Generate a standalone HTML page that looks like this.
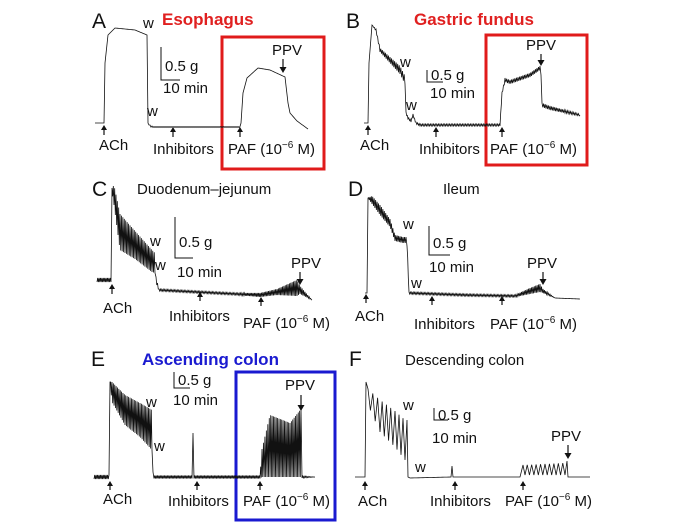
<!DOCTYPE html>
<html><head><meta charset="utf-8"><style>
body{margin:0;background:#fff}
svg{display:block;font-family:"Liberation Sans",Arial,sans-serif}
.lbl{font-size:15px;fill:#111}
.let{font-size:21px;fill:#111}
.ttl{font-size:17px}
</style></head><body>
<svg id="fig" width="700" height="525" viewBox="0 0 700 525">
<rect width="700" height="525" fill="#fff"/>
<g id="static"></g>
<g id="traces"></g>
</svg>
<script>
// ---- trace data (time units, force units relative to baseline) ----
const aTime=[0,9,10,13,20,40,52,53,55,58,145,146,148,152,163,175,190,193,195,202,213];
const aForce=[0,0,60,88,95,93,88,0,-3,-4,-4,0,30,45,55,53,46,20,10,2,-6];
const aNoise=[0,0,0,0,0,0,0,0,1,0.5,0.5,0,0,0,0,0,0,0,0,0,0];
const bTime=[0,4,5,8,12,16,26,36,41,42,44,47,49,52,56,136,138,141,146,166,176,177,178,186,216];
const bForce=[0,0,60,98,93,73,63,53,43,10,5,2,8,0,-2,-2,30,43,41,48,55,50,18,15,8];
const bNoise=[0,0,0,0,1,2,3,4,4,1,1,1,1,1,1,1,1,2,2,2,2,2,2,2,1];
const cTime=[0,14,15,17,23,38,55,58,59,62,100,140,163,180,200,203,215];
const cForce=[0,0,90,85,48,35,19,17,0,-10,-12,-14,-15,-12,-8,-10,-20];
const cNoise=[2,2,2,10,18,14,11,10,3,1,1,1,2,3,8,4,0];
const dTime=[0,2,3,7,15,25,30,38,41,42,44,100,150,165,175,178,190,215];
const dForce=[0,0,95,93,83,70,55,53,53,50,0,-2,-3,2,5,2,-5,-6];
const dNoise=[0,0,0,4,5,4,3,3,3,3,1,1,1,3,4,2,0,0];
const eTime=[0,15,16,18,31,46,58,59,60,98,99,100,166,168,176,196,207,208,221];
const eForce=[0,0,95,85,67,57,47,2,0,0,44,0,0,14,31,27,34,0,0];
const eNoise=[2,2,0,10,15,17,20,3,1.5,1.5,0,1.5,1.5,14,31,27,34,1,0];
const fTime=[0,10,11,13,25,40,50,52,53,55,96,97,98,165,168,170,210,212,213,235];
const fForce=[0,0,95,80,61,48,37,37,0,-1,0,11,0,0,10,7,8,10,0,0];
const fNoise=[0,0,0,8,16,18,20,20,0,0,0,0,0,0,2,5,6,6,0,0];

const panels=[
 {id:'a',x0:95,y0:123,t:aTime,f:aForce,n:aNoise,step:1},
 {id:'b',x0:364,y0:123,t:bTime,f:bForce,n:bNoise,step:0.8},
 {id:'c',x0:97,y0:280,t:cTime,f:cForce,n:cNoise,step:0.7},
 {id:'d',x0:365,y0:293,t:dTime,f:dForce,n:dNoise,step:0.7},
 {id:'e',x0:94,y0:477,t:eTime,f:eForce,n:eNoise,step:0.7},
 {id:'f',x0:355,y0:477,t:fTime,f:fForce,n:fNoise,step:2.2}
];
function xScale(p,t){return p.x0+t;}
function yScale(p,f){return p.y0-f;}
const NS='http://www.w3.org/2000/svg';
const tg=document.getElementById('traces');
panels.forEach(p=>{
  let d='';let k=0;
  for(let i=0;i<p.t.length-1;i++){
    const t0=p.t[i],t1=p.t[i+1];
    const span=Math.max(t1-t0,0.001);
    const n=Math.max(1,Math.round(span/p.step));
    for(let j=0;j<n;j++){
      const u=j/n;
      const t=t0+u*span;
      const f=p.f[i]+u*(p.f[i+1]-p.f[i]);
      const a=p.n[i]+u*(p.n[i+1]-p.n[i]);
      const s=(k%2?1:-1)*a;k++;
      d+=(d?'L':'M')+xScale(p,t).toFixed(2)+','+yScale(p,f+s).toFixed(2);
    }
  }
  const L=p.t.length-1;
  d+='L'+xScale(p,p.t[L])+','+yScale(p,p.f[L]);
  const path=document.createElementNS(NS,'path');
  path.setAttribute('d',d);
  path.setAttribute('fill','none');
  path.setAttribute('stroke','#111');
  path.setAttribute('stroke-width','0.8');
  
  
  tg.appendChild(path);
});

// ---- static annotations ----
let s='';
function txt(x,y,str,cls,name,extra){s+=`<text x="${x}" y="${y}" class="${cls}" ${extra||''}>${str}</text>`;}
function up(x,y1,y2,name){s+=`<g><line x1="${x}" y1="${y1}" x2="${x}" y2="${y2+4}" stroke="#111" stroke-width="1.2"/><path d="M${x-3},${y2+5}L${x},${y2}L${x+3},${y2+5}Z" fill="#111"/></g>`;}
function down(x,y1,y2,name){s+=`<g><line x1="${x}" y1="${y1}" x2="${x}" y2="${y2-4}" stroke="#111" stroke-width="1.2"/><path d="M${x-3.5},${y2-6}L${x},${y2}L${x+3.5},${y2-6}Z" fill="#111"/></g>`;}
function bar(x,y1,y2,x2,name){s+=`<path d="M${x},${y1}V${y2}H${x2}" fill="none" stroke="#111" stroke-width="1"/>`;}
const paf='PAF (10<tspan font-size="10" dy="-6">−6</tspan><tspan dy="6"> M)</tspan>';
// A
txt(92,28,'A','let','panel-a-letter');
txt(162,25,'Esophagus','ttl','panel-a-title','fill="#e02020" font-weight="bold"');
txt(143,28,'w','lbl','wash-a1');txt(147,116,'w','lbl','wash-a2');
bar(161,47,80,180,'scale-bar-a');txt(165,71,'0.5 g','lbl','scale-g-a');txt(163,93,'10 min','lbl','scale-min-a');
s+='<rect x="222" y="37" width="102" height="132" fill="none" stroke="#e01b1b" stroke-width="3"/>';
txt(272,55,'PPV','lbl','ppv-label-a');down(283,59,73,'ppv-arrow-a');
up(104,135,125,'ach-arrow-a');txt(99,150,'ACh','lbl','ach-label-a');
up(173,137,127,'inhib-arrow-a');txt(153,154,'Inhibitors','lbl','inhib-label-a');
up(240,137,127,'paf-arrow-a');txt(228,154,paf,'lbl','paf-label-a');
// B
txt(346,28,'B','let','panel-b-letter');
txt(414,25,'Gastric fundus','ttl','panel-b-title','fill="#e02020" font-weight="bold"');
txt(400,67,'w','lbl','wash-b1');txt(406,110,'w','lbl','wash-b2');
bar(427,70,82,443,'scale-bar-b');txt(431,80,'0.5 g','lbl','scale-g-b');txt(430,98,'10 min','lbl','scale-min-b');
s+='<rect x="486" y="35" width="101" height="130" fill="none" stroke="#e01b1b" stroke-width="3"/>';
txt(526,50,'PPV','lbl','ppv-label-b');down(541,54,66,'ppv-arrow-b');
up(368,135,125,'ach-arrow-b');txt(360,150,'ACh','lbl','ach-label-b');
up(436,137,127,'inhib-arrow-b');txt(419,154,'Inhibitors','lbl','inhib-label-b');
up(502,137,127,'paf-arrow-b');txt(490,154,paf,'lbl','paf-label-b');
// C
txt(92,196,'C','let','panel-c-letter');
txt(137,194,'Duodenum–jejunum','lbl','panel-c-title','font-size="16"');
txt(150,246,'w','lbl','wash-c1');txt(155,270,'w','lbl','wash-c2');
bar(175,217,258,193,'scale-bar-c');txt(179,247,'0.5 g','lbl','scale-g-c');txt(177,277,'10 min','lbl','scale-min-c');
txt(291,268,'PPV','lbl','ppv-label-c');down(300,272,285,'ppv-arrow-c');
up(112,294,284,'ach-arrow-c');txt(103,313,'ACh','lbl','ach-label-c');
up(200,301,292,'inhib-arrow-c');txt(169,321,'Inhibitors','lbl','inhib-label-c');
up(261,306,297,'paf-arrow-c');txt(243,328,paf,'lbl','paf-label-c');
// D
txt(348,196,'D','let','panel-d-letter');
txt(443,194,'Ileum','lbl','panel-d-title','font-size="16"');
txt(403,229,'w','lbl','wash-d1');txt(411,288,'w','lbl','wash-d2');
bar(429,226,255,450,'scale-bar-d');txt(433,248,'0.5 g','lbl','scale-g-d');txt(429,272,'10 min','lbl','scale-min-d');
txt(527,268,'PPV','lbl','ppv-label-d');down(543,272,285,'ppv-arrow-d');
up(366,303,294,'ach-arrow-d');txt(355,321,'ACh','lbl','ach-label-d');
up(432,305,296,'inhib-arrow-d');txt(414,329,'Inhibitors','lbl','inhib-label-d');
up(502,305,296,'paf-arrow-d');txt(490,329,paf,'lbl','paf-label-d');
// E
txt(91,366,'E','let','panel-e-letter');
txt(142,365,'Ascending colon','ttl','panel-e-title','fill="#1a1ad0" font-weight="bold"');
txt(146,407,'w','lbl','wash-e1');txt(154,451,'w','lbl','wash-e2');
bar(174,372,388,190,'scale-bar-e');txt(178,385,'0.5 g','lbl','scale-g-e');txt(173,405,'10 min','lbl','scale-min-e');
s+='<rect x="236" y="372" width="99" height="148" fill="none" stroke="#1a1ad0" stroke-width="3"/>';
txt(285,390,'PPV','lbl','ppv-label-e');down(301,395,411,'ppv-arrow-e');
up(110,490,481,'ach-arrow-e');txt(103,504,'ACh','lbl','ach-label-e');
up(197,490,481,'inhib-arrow-e');txt(168,506,'Inhibitors','lbl','inhib-label-e');
up(260,490,481,'paf-arrow-e');txt(243,506,paf,'lbl','paf-label-e');
// F
txt(349,366,'F','let','panel-f-letter');
txt(405,365,'Descending colon','lbl','panel-f-title','font-size="16"');
txt(403,410,'w','lbl','wash-f1');txt(415,472,'w','lbl','wash-f2');
bar(434,408,420,448,'scale-bar-f');txt(438,420,'0.5 g','lbl','scale-g-f');txt(432,443,'10 min','lbl','scale-min-f');
txt(551,441,'PPV','lbl','ppv-label-f');down(568,445,459,'ppv-arrow-f');
up(365,490,481,'ach-arrow-f');txt(358,506,'ACh','lbl','ach-label-f');
up(455,490,481,'inhib-arrow-f');txt(430,506,'Inhibitors','lbl','inhib-label-f');
up(523,490,481,'paf-arrow-f');txt(505,506,paf,'lbl','paf-label-f');
document.getElementById('static').innerHTML=s;
</script>
</body></html>
